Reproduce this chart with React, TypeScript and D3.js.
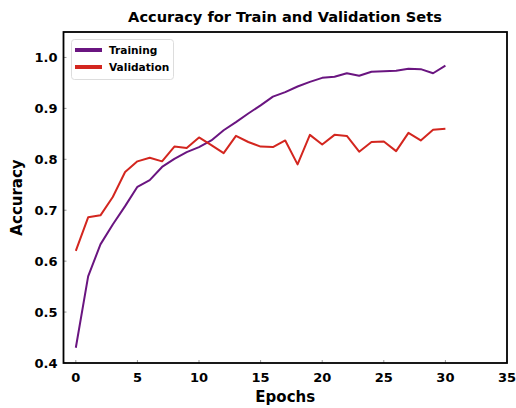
import React from "react";
import * as d3 from "d3";

const epochs = d3.range(0, 31);
const training = [0.43, 0.57, 0.633, 0.672, 0.708, 0.746, 0.759, 0.785, 0.801, 0.814, 0.824, 0.837, 0.857, 0.873, 0.89, 0.906, 0.923, 0.932, 0.943, 0.952, 0.96, 0.962, 0.969, 0.964, 0.972, 0.973, 0.974, 0.978, 0.977, 0.969, 0.984];
const validation = [0.62, 0.686, 0.69, 0.726, 0.775, 0.796, 0.803, 0.796, 0.825, 0.822, 0.843, 0.828, 0.812, 0.846, 0.834, 0.825, 0.824, 0.837, 0.79, 0.848, 0.829, 0.848, 0.846, 0.815, 0.834, 0.835, 0.816, 0.852, 0.837, 0.858, 0.86];
const xTicks = [0, 5, 10, 15, 20, 25, 30, 35];
const yTicks = [0.4, 0.5, 0.6, 0.7, 0.8, 0.9, 1.0];
const seriesNames = ["Training", "Validation"];
const colors = ["#6a1580", "#d3261f"];

const W = 516, H = 408;
const L = 63.5, R = 507, T = 32, B = 363;
const font = "'DejaVu Sans', sans-serif";

export default function App() {
  const x = d3.scaleLinear().domain([-1, 35]).range([L, R]);
  const y = d3.scaleLinear().domain([0.4, 1.05]).range([B, T]);
  const line = d3.line<number>().x((_, i) => x(epochs[i])).y((d) => y(d));
  const data = [training, validation];
  return (
    <svg width={W} height={H} style={{ position: "absolute", left: 0, top: 0, background: "#fff" }}>
      <rect x={0} y={0} width={W} height={H} fill="#fff" />
      <text x={285} y={22} textAnchor="middle" fontFamily={font} fontWeight="bold" fontSize={14.6}>
        Accuracy for Train and Validation Sets
      </text>
      {data.map((d, i) => (
        <path key={i} d={line(d) || ""} fill="none" stroke={colors[i]} strokeWidth={2} strokeLinejoin="round" />
      ))}
      {xTicks.map((t) => (
        <g key={"x" + t}>
          <line x1={x(t)} x2={x(t)} y1={B} y2={B - 3} stroke="#999" strokeWidth={1} />
          <text x={x(t)} y={B + 19} textAnchor="middle" fontFamily={font} fontWeight="bold" fontSize={13}>
            {t}
          </text>
        </g>
      ))}
      {yTicks.map((t) => (
        <g key={"y" + t}>
          <line x1={L} x2={L + 3} y1={y(t)} y2={y(t)} stroke="#999" strokeWidth={1} />
          <text x={L - 6} y={y(t) + 4.5} textAnchor="end" fontFamily={font} fontWeight="bold" fontSize={13}>
            {t.toFixed(1)}
          </text>
        </g>
      ))}
      <rect x={L} y={T} width={R - L} height={B - T} fill="none" stroke="#000" strokeWidth={1.8} />
      <text x={(L + R) / 2} y={H - 6} textAnchor="middle" fontFamily={font} fontWeight="bold" fontSize={15}>
        Epochs
      </text>
      <text transform={`translate(22,${(T + B) / 2}) rotate(-90)`} textAnchor="middle" fontFamily={font} fontWeight="bold" fontSize={15}>
        Accuracy
      </text>
      <g>
        <rect x={71.5} y={39.5} width={102} height={40} rx={3} fill="#fff" stroke="#ddd" strokeWidth={1} />
        {seriesNames.map((n, i) => (
          <g key={n}>
            <line x1={75} x2={102} y1={50 + i * 17} y2={50 + i * 17} stroke={colors[i]} strokeWidth={4} />
            <text x={109} y={54 + i * 17} fontFamily={font} fontWeight="bold" fontSize={10.6}>
              {n}
            </text>
          </g>
        ))}
      </g>
    </svg>
  );
}
